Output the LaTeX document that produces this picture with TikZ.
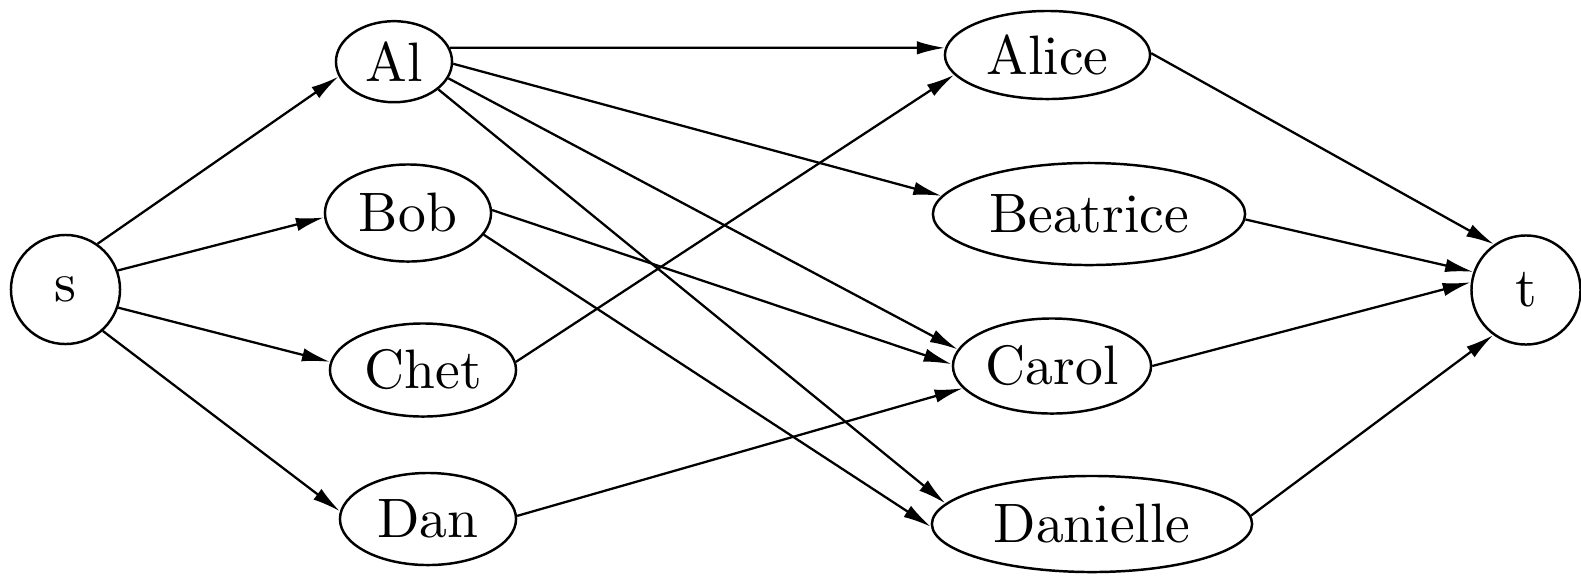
\documentclass[tikz,border=0pt]{standalone}
\usepackage{fontspec}
\setmainfont{lmroman10-regular.otf}
\usetikzlibrary{arrows.meta,shapes.geometric}
\begin{document}
\begin{tikzpicture}[x=0.01cm,y=-0.01cm,
  person/.style={ellipse,draw,line width=0.7pt,inner sep=0pt,
    font=\fontsize{15.8}{18}\selectfont},
  terminal/.style={circle,draw,line width=0.7pt,inner sep=0pt,
    minimum size=1.09cm,font=\fontsize{15.8}{18}\selectfont},
  flow/.style={-{Latex[length=8pt,width=3.8pt]},line width=0.65pt}]
\useasboundingbox (0,0) rectangle (1581,578);

% source and sink
\node[terminal] (s) at (65.5,289.5) {s};
\node[terminal] (t) at (1526,290) {t};

% left column
\node[person,minimum width=1.16cm,minimum height=0.81cm] (Al)   at (394,61.7) {Al};
\node[person,minimum width=1.66cm,minimum height=0.97cm] (Bob)  at (408,213)  {Bob};
\node[person,minimum width=1.86cm,minimum height=0.93cm] (Chet) at (423,370)  {Chet};
\node[person,minimum width=1.76cm,minimum height=0.92cm] (Dan)  at (428,519)  {Dan};

% right column
\node[person,minimum width=2.05cm,minimum height=0.88cm] (Alice)    at (1047.5,55) {Alice};
\node[person,minimum width=3.12cm,minimum height=1.02cm] (Beatrice) at (1089,214)  {Beatrice};
\node[person,minimum width=1.98cm,minimum height=0.95cm] (Carol)    at (1052,366)  {Carol};
\node[person,minimum width=3.20cm,minimum height=0.96cm] (Danielle) at (1092,524)  {Danielle};

% edges out of s
\draw[flow] (s.55)  -- (Al.195);
\draw[flow] (s.20)  -- (Bob.183);
\draw[flow] (s.-19) -- (Chet.175);
\draw[flow] (s.-48) -- (Dan.175);

% edges between the columns
\draw[flow] (Al.14)   -- (Alice.176);
\draw[flow] (Al.-2)   -- (Beatrice.173);
\draw[flow] (Al.-17)  -- (Carol.170);
\draw[flow] (Al.-32)  -- (Danielle.172);
\draw[flow] (Bob.2)   -- (Carol.179);
\draw[flow] (Bob.-16) -- (Danielle.181);
\draw[flow] (Chet.5)  -- (Alice.192);
\draw[flow] (Dan.2)   -- (Carol.194);

% edges into t
\draw[flow] (Alice.1)     -- (t.125);
\draw[flow] (Beatrice.-2) -- (t.161);
\draw[flow] (Carol.0)     -- (t.172);
\draw[flow] (Danielle.3)  -- (t.234);
\end{tikzpicture}
\end{document}
